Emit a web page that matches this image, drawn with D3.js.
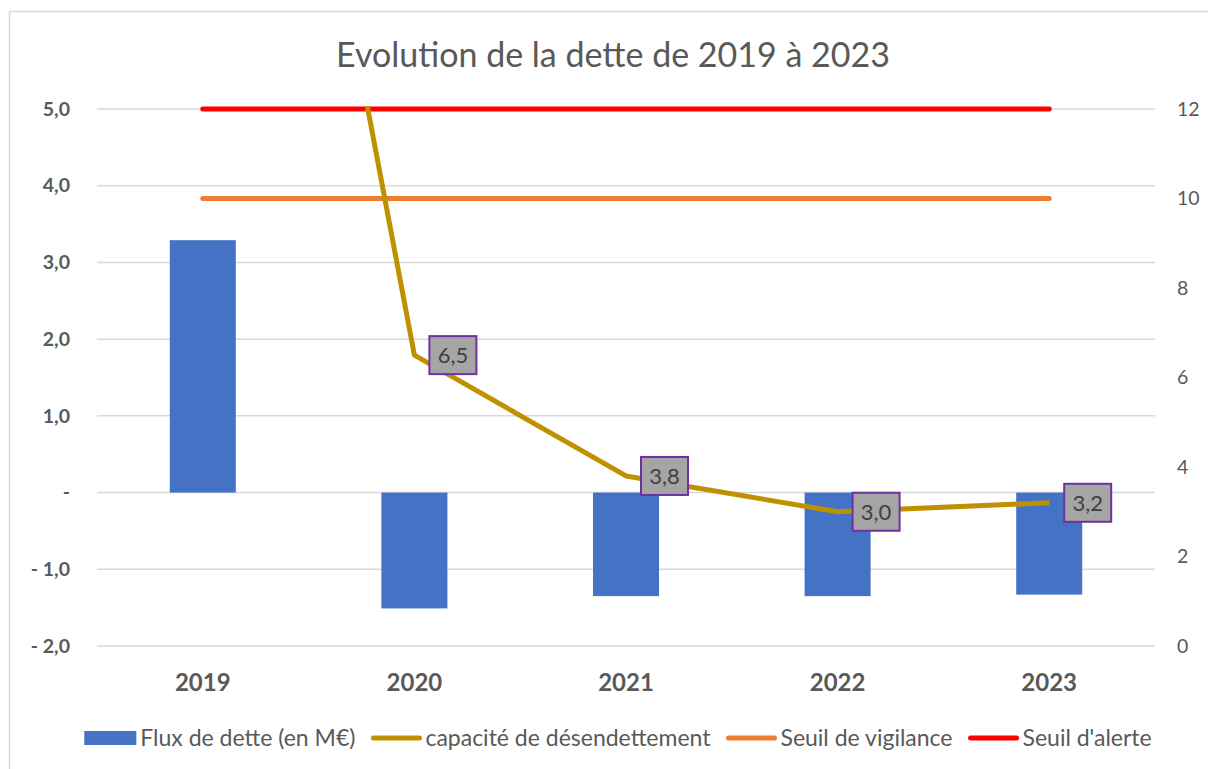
<!DOCTYPE html>
<html>
<head>
<meta charset="utf-8">
<script src="https://cdn.jsdelivr.net/npm/d3@7"></script>
<style>
  body { margin: 0; background: #fff; }
  svg { display: block; font-family: Lato, "Open Sans", sans-serif; }
</style>
</head>
<body>
<svg id="chart" width="1208" height="769"></svg>
<script>
var width = 1208,
	height = 769;

// data
var years = ["2019", "2020", "2021", "2022", "2023"];
var fluxDette = [3.29, -1.51, -1.35, -1.35, -1.33];           // M€, left axis
var capacite = [31.5, 6.5, 3.8, 3.0, 3.2];                   // years, right axis
var seuilVigilance = [10, 10, 10, 10, 10];
var seuilAlerte = [12, 12, 12, 12, 12];
var leftTicks = [-2, -1, 0, 1, 2, 3, 4, 5];
var rightTicks = [0, 2, 4, 6, 8, 10, 12];

var plot = { left: 97, right: 1155, top: 109, bottom: 646 };
var textColor = "#595959";

var svg = d3.select("#chart");

// chart frame
svg.append("rect")
	.attr("x", 9.5).attr("y", 11.5)
	.attr("width", width + 20).attr("height", height + 20)
	.attr("fill", "#fff")
	.attr("stroke", "#d9d9d9")
	.attr("stroke-width", 1.5);

var x = d3.scaleBand()
	.domain(years)
	.range([plot.left, plot.right]);

var yL = d3.scaleLinear()
	.domain([-2, 5])
	.range([plot.bottom, plot.top]);

var yR = d3.scaleLinear()
	.domain([0, 12])
	.range([plot.bottom, plot.top]);

var cx = function(d) { return x(d) + x.bandwidth() / 2; };

var fmt = function(v) {
	if (v == 0) return "-";
	var s = d3.format(".1f")(Math.abs(v)).replace(".", ",");
	return v < 0 ? "- " + s : s;
};

// title
svg.append("text")
	.attr("x", 613).attr("y", 67)
	.attr("text-anchor", "middle")
	.attr("fill", textColor)
	.style("font-size", "34px")
	.text("Evolution de la dette de 2019 à 2023");

// gridlines
svg.append("g")
	.selectAll("line")
	.data(leftTicks)
	.enter().append("line")
	.attr("x1", plot.left).attr("x2", plot.right)
	.attr("y1", function(d) { return yL(d); })
	.attr("y2", function(d) { return yL(d); })
	.attr("stroke", "#d9d9d9")
	.attr("stroke-width", 1.5);

// left axis
var axisL = svg.append("g")
	.attr("transform", "translate(70,0)")
	.call(d3.axisLeft(yL).tickValues(leftTicks).tickFormat(fmt).tickSize(0).tickPadding(0));
axisL.select(".domain").remove();
axisL.selectAll("text")
	.attr("fill", textColor)
	.style("font-size", "19.5px")
	.style("font-weight", "bold")
	.style("font-family", "Lato, sans-serif");

// right axis
var axisR = svg.append("g")
	.attr("transform", "translate(1177,0)")
	.call(d3.axisRight(yR).tickValues(rightTicks).tickSize(0).tickPadding(0));
axisR.select(".domain").remove();
axisR.selectAll("text")
	.attr("fill", textColor)
	.style("font-size", "19.5px")
	.style("font-family", "Lato, sans-serif");

// category labels
svg.append("g")
	.selectAll("text")
	.data(years)
	.enter().append("text")
	.attr("x", cx)
	.attr("y", 691)
	.attr("text-anchor", "middle")
	.attr("fill", textColor)
	.style("font-size", "24px")
	.style("font-weight", "bold")
	.text(function(d) { return d; });

// bars
var barW = x.bandwidth() * 0.312;
svg.append("g")
	.selectAll("rect")
	.data(fluxDette)
	.enter().append("rect")
	.attr("x", function(d, i) { return cx(years[i]) - barW / 2; })
	.attr("y", function(d) { return Math.min(yL(d), yL(0)); })
	.attr("width", barW)
	.attr("height", function(d) { return Math.abs(yL(d) - yL(0)); })
	.attr("fill", "#4472c4");

// clip for the lines
svg.append("clipPath").attr("id", "plotClip")
	.append("rect")
	.attr("x", plot.left).attr("y", plot.top - 3)
	.attr("width", plot.right - plot.left)
	.attr("height", plot.bottom - plot.top + 6);

var line = d3.line()
	.x(function(d, i) { return cx(years[i]); })
	.y(function(d) { return yR(d); });

var series = [
	{ name: "Seuil de vigilance", values: seuilVigilance, color: "#ed7d31", cap: "round" },
	{ name: "Seuil d'alerte", values: seuilAlerte, color: "#ff0000", cap: "round" },
	{ name: "capacité de désendettement", values: capacite, color: "#bf9000", cap: "butt" }
];

svg.append("g")
	.attr("clip-path", "url(#plotClip)")
	.selectAll("path")
	.data(series)
	.enter().append("path")
	.attr("d", function(d) { return line(d.values); })
	.attr("fill", "none")
	.attr("stroke", function(d) { return d.color; })
	.attr("stroke-width", 5)
	.attr("stroke-linecap", function(d) { return d.cap; })
	.attr("stroke-linejoin", "round");

// data labels on capacité
var labels = svg.append("g")
	.selectAll("g")
	.data(capacite.map(function(v, i) { return { v: v, year: years[i] }; })
		.filter(function(d) { return d.v <= 12; }))
	.enter().append("g")
	.attr("transform", function(d) { return "translate(" + (cx(d.year) + 15) + "," + yR(d.v) + ")"; });

labels.append("rect")
	.attr("x", 0).attr("y", -19)
	.attr("width", 47).attr("height", 38)
	.attr("fill", "#a5a5a5")
	.attr("stroke", "#7030a0")
	.attr("stroke-width", 2);

labels.append("text")
	.attr("x", 23.5).attr("y", 8)
	.attr("text-anchor", "middle")
	.attr("fill", "#404040")
	.style("font-size", "22px")
	.text(function(d) { return fmt(d.v); });

// legend
var legendItems = [
	{ name: "Flux de dette (en M€)", color: "#4472c4", type: "rect" },
	{ name: "capacité de désendettement", color: "#bf9000", type: "line" },
	{ name: "Seuil de vigilance", color: "#ed7d31", type: "line" },
	{ name: "Seuil d'alerte", color: "#ff0000", type: "line" }
];

var legend = svg.append("g");
var lx = 0, ly = 738;
legendItems.forEach(function(d, i) {
	var g = legend.append("g").attr("transform", "translate(" + lx + ",0)");
	var sw = d.type == "rect" ? 52 : 50;
	if (d.type == "rect") {
		g.append("rect").attr("x", 0).attr("y", ly - 7)
			.attr("width", sw).attr("height", 14).attr("fill", d.color);
	} else {
		g.append("line").attr("x1", 2).attr("x2", sw - 2)
			.attr("y1", ly).attr("y2", ly)
			.attr("stroke", d.color).attr("stroke-width", 5)
			.attr("stroke-linecap", "round");
	}
	var t = g.append("text")
		.attr("x", sw + 4).attr("y", ly + 8)
		.attr("fill", textColor)
		.style("font-size", "23px")
		.text(d.name);
	lx += sw + 4 + t.node().getComputedTextLength() + 16;
});
var legendW = lx - 16;
legend.attr("transform", "translate(" + (618 - legendW / 2) + ",0)");
</script>
</body>
</html>
